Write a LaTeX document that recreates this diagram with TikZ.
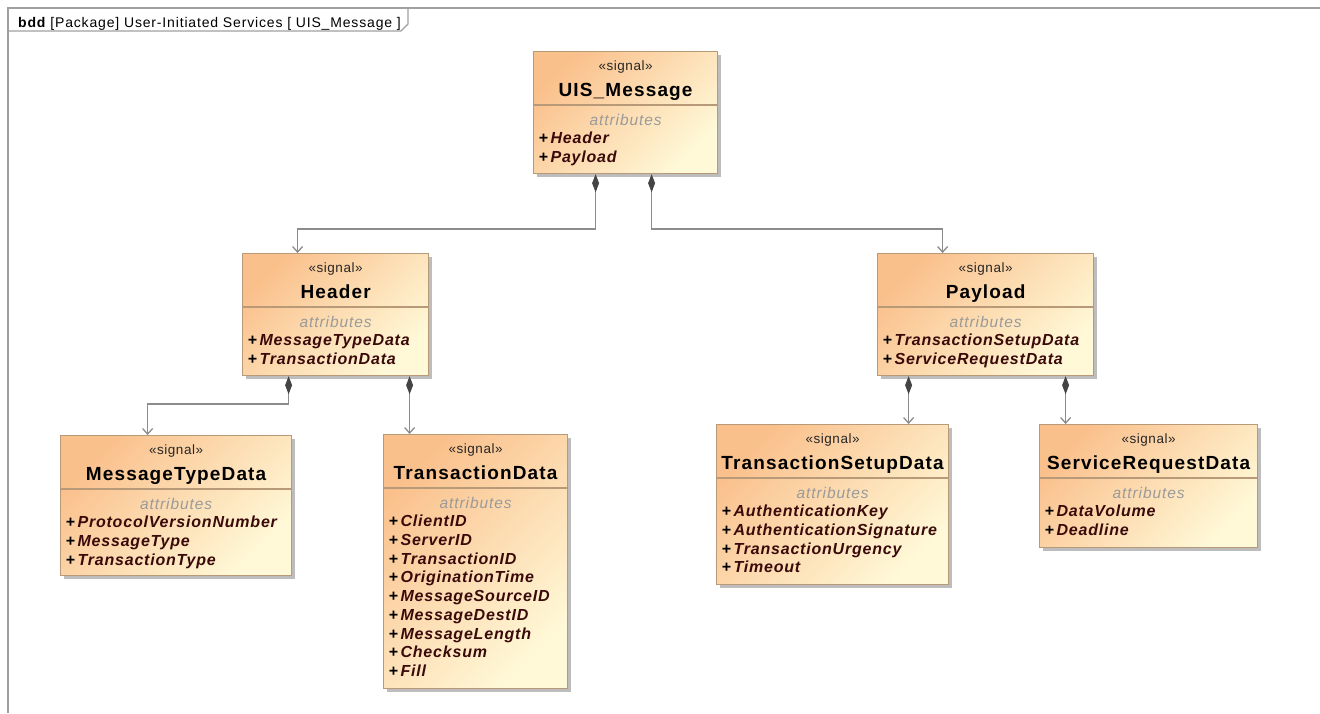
\documentclass[tikz,border=0pt]{standalone}
\usepackage{fontspec}
\setmainfont{Liberation Sans}
\usetikzlibrary{arrows.meta,shadows,calc}
\definecolor{boxA}{HTML}{FAC08C}
\definecolor{boxB}{HTML}{FFF9D8}
\definecolor{boxline}{HTML}{B89A78}
\definecolor{attrc}{HTML}{3A0A0A}
\definecolor{framec}{HTML}{A0A0A0}
\definecolor{linec}{HTML}{8C8C8C}
\definecolor{diamc}{HTML}{444444}
\definecolor{compc}{HTML}{9A9A9A}
\tikzset{
  classbox/.style={draw=boxline, line width=1.2pt, top color=boxA, bottom color=boxB, shading angle=45,
    drop shadow={shadow xshift=3.5pt, shadow yshift=-3.5pt, fill=black!32, opacity=0.8},
    inner sep=0pt, anchor=north west},
  sepline/.style={draw=boxline, line width=1.2pt},
  stereo/.style={font=\fontsize{13.5}{16}\selectfont\addfontfeatures{LetterSpace=4}, text=black!85, anchor=base, inner sep=0pt},
  titletext/.style={font=\fontsize{19}{22}\selectfont\bfseries\addfontfeatures{LetterSpace=6}, anchor=base, inner sep=0pt},
  comptext/.style={font=\fontsize{15.5}{18}\selectfont\itshape\addfontfeatures{LetterSpace=6}, text=compc, anchor=base, inner sep=0pt},
  attrtext/.style={font=\fontsize{16}{18}\selectfont\bfseries\itshape\addfontfeatures{LetterSpace=5}, anchor=base west, inner sep=0pt},
  comp/.style={draw=linec, line width=1.6pt,
    {Diamond[length=18pt,width=7pt,fill=diamc,color=diamc]}-{Straight Barb[length=5.5pt,width=10pt,line width=1.3pt]}},
  framel/.style={draw=framec, line width=1.6pt},
}
\newcommand\umlbox[7]{%
  \node[classbox, minimum width=#4pt, minimum height=#5pt] (#1) at (#2,#3) {};
  \draw[sepline] ([yshift=-54pt]#1.north west) -- ([yshift=-54pt]#1.north east);
  \node[stereo] (#1-st) at ([yshift=-19.5pt]#1.north) {«signal»};
  \node[titletext] (#1-ti) at ([yshift=-45.5pt]#1.north) {#6};
  \node[comptext] (#1-co) at ([yshift=-74pt]#1.north) {attributes};
  \foreach \a [count=\i from 0] in {#7} {
    \node[attrtext] (#1-a\i) at ([xshift=5.5pt,yshift={-(92.8+18.7*\i)*1pt}]#1.north west)
      {+\hspace{2.5pt}\textcolor{attrc}{\a}};
  }%
}
\begin{document}
\begin{tikzpicture}[x=1pt,y=-1pt]
\useasboundingbox (0,0) rectangle (1320,713);
\fill[white] (0,0) rectangle (1320,713);
% frame
\draw[framel] (8,713) -- (8,8) -- (1320,8);
\draw[framel, line width=1.2pt] (8,31) -- (401,31) -- (408,24) -- (408,8);
\node[anchor=base west, inner sep=0pt, font=\fontsize{14}{16}\selectfont\addfontfeatures{LetterSpace=6}] (ttl) at (18,27)
  {\textbf{bdd}\hspace{4pt}[Package] User-Initiated Services [ UIS\_Message ]};
% boxes
\umlbox{uis}{533}{51}{184}{122}{UIS\_Message}{Header,Payload}
\umlbox{hdr}{242}{253}{186}{122}{Header}{MessageTypeData,TransactionData}
\umlbox{pay}{877}{253}{216}{122}{Payload}{TransactionSetupData,ServiceRequestData}
\umlbox{mtd}{60}{435}{231}{140}{MessageTypeData}{ProtocolVersionNumber,MessageType,TransactionType}
\umlbox{trd}{383}{434}{184}{254}{TransactionData}{ClientID,ServerID,TransactionID,OriginationTime,MessageSourceID,MessageDestID,MessageLength,Checksum,Fill}
\umlbox{tsd}{716}{424}{232}{160}{TransactionSetupData}{AuthenticationKey,AuthenticationSignature,TransactionUrgency,Timeout}
\umlbox{srd}{1039}{424}{218}{123}{ServiceRequestData}{DataVolume,Deadline}
% connectors
\draw[comp] ([xshift=-30pt]uis.south) -- ++(0,55) -| ([xshift=-38pt]hdr.north);
\draw[comp] ([xshift=26pt]uis.south) -- ++(0,55) -| ([xshift=-43pt]pay.north);
\draw[comp] ([xshift=-47pt]hdr.south) -- ++(0,28) -| ([xshift=-28.5pt]mtd.north);
\draw[comp] ([xshift=74pt]hdr.south) -- ([xshift=-66pt]trd.north);
\draw[comp] ([xshift=-77pt]pay.south) -- ([xshift=76pt]tsd.north);
\draw[comp] ([xshift=80pt]pay.south) -- ([xshift=-83pt]srd.north);
\end{tikzpicture}
\end{document}
